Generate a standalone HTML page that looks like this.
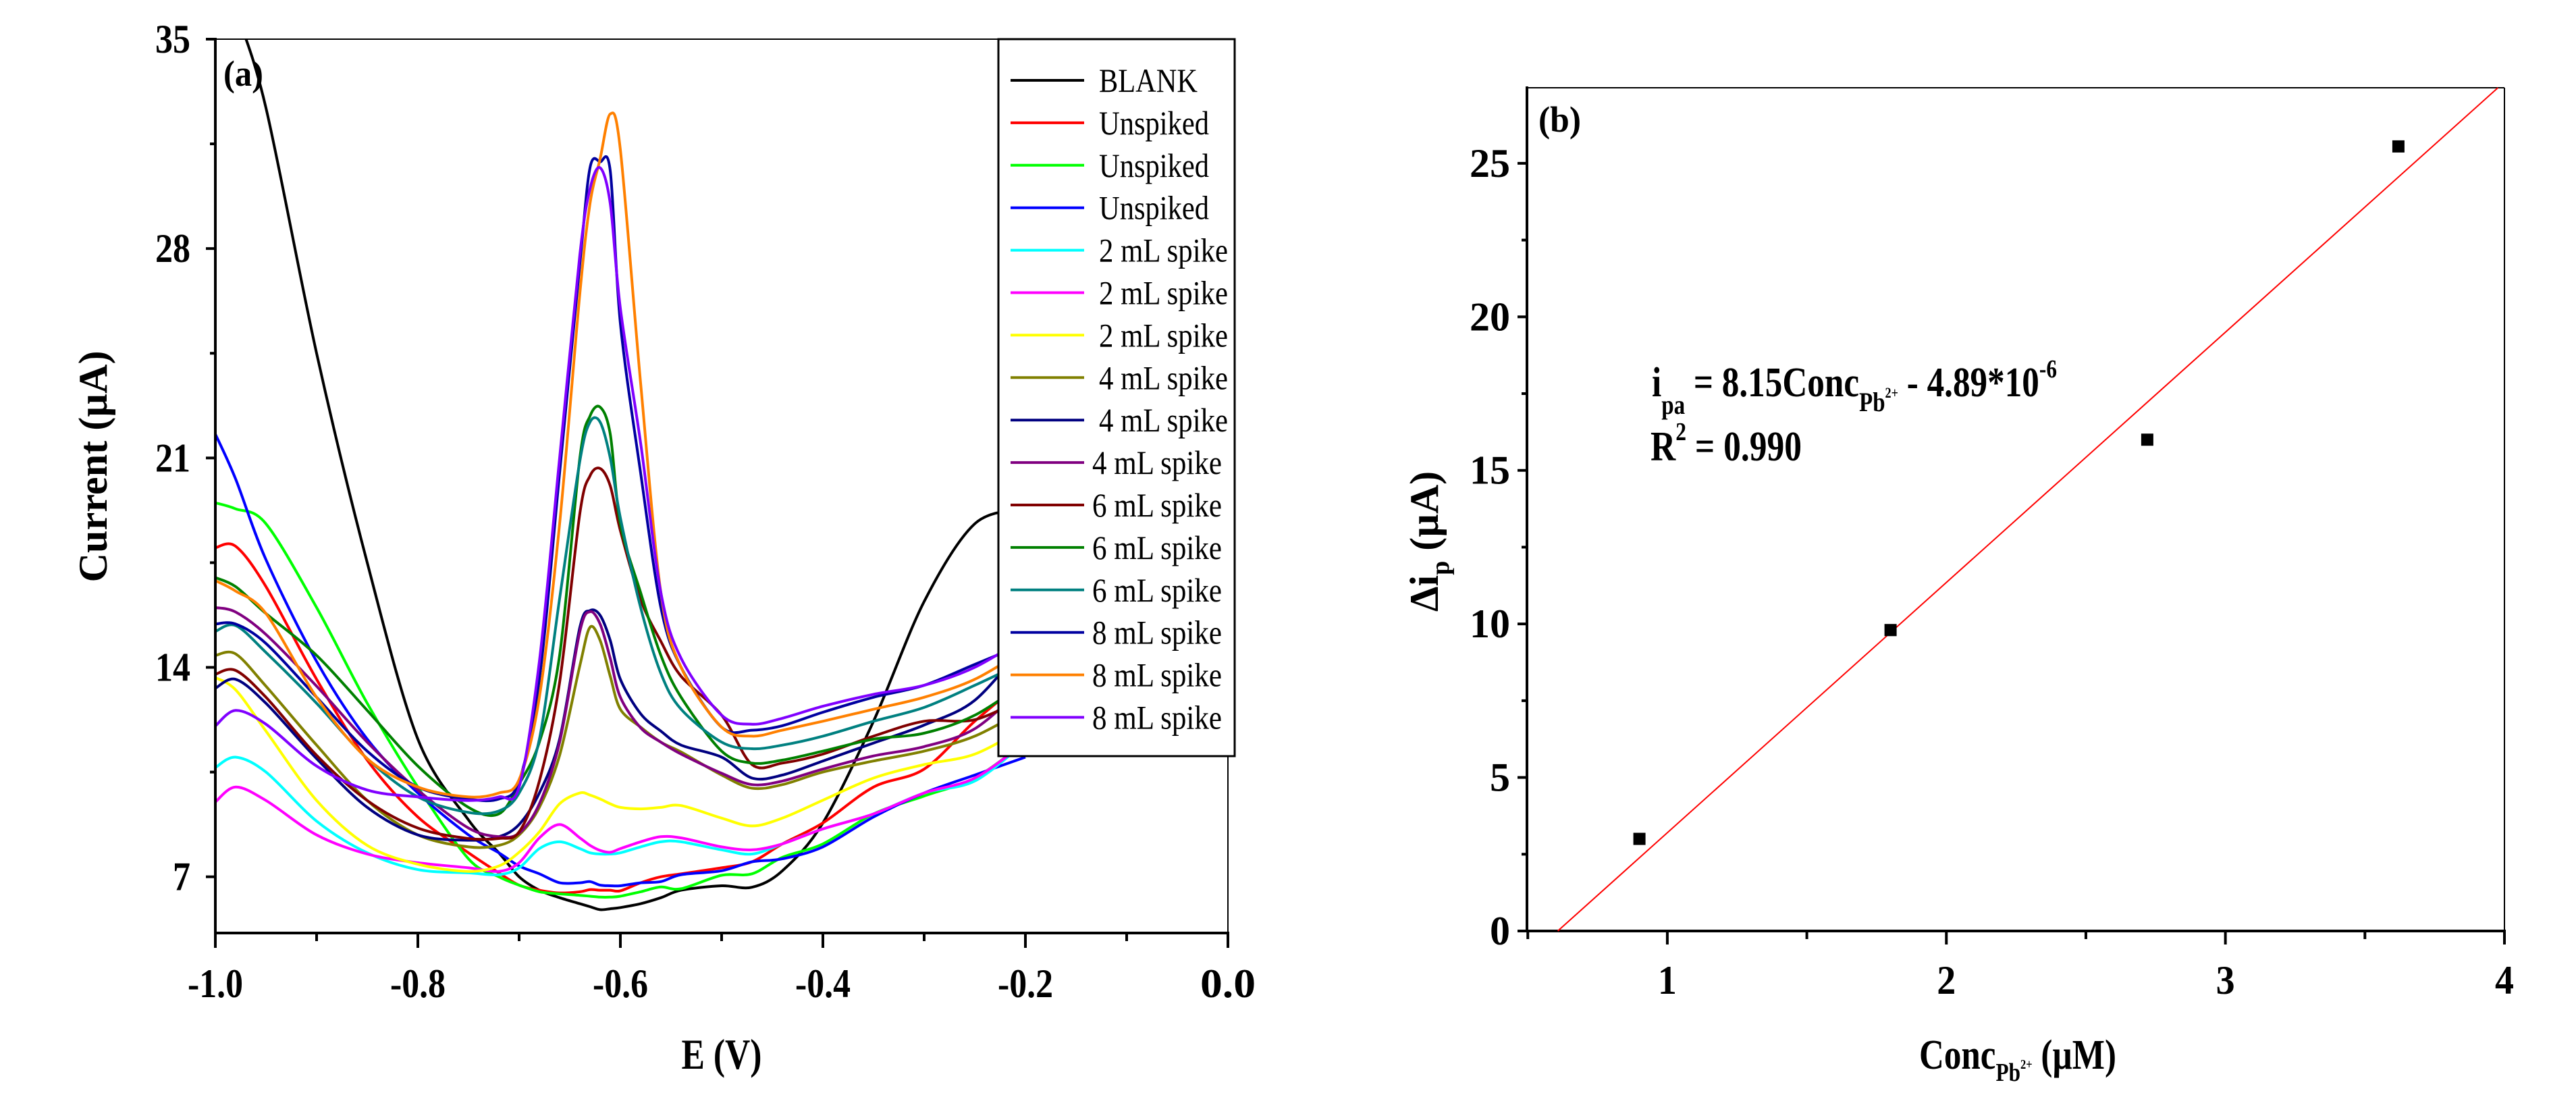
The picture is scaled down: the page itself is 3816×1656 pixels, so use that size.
<!DOCTYPE html>
<html><head><meta charset="utf-8"><style>
html,body{margin:0;padding:0;background:#fff;}
svg{display:block;}
text{font-family:"Liberation Serif",serif;font-weight:bold;fill:#000;}
</style></head><body>
<svg id="fig" width="3816" height="1656" viewBox="0 0 3816 1656" xmlns="http://www.w3.org/2000/svg">
<defs><clipPath id="clipA"><rect x="319" y="58" width="1500" height="1324"/></clipPath></defs>
<rect x="0" y="0" width="3816" height="1656" fill="#fff"/>
<g id="panelA"></g>
<g id="panelB"></g>
<g font-family="Liberation Serif, serif" font-weight="bold">
<text x="2447" y="587" font-size="62" textLength="600" lengthAdjust="spacingAndGlyphs">i<tspan font-size="40" dy="26">pa</tspan><tspan dy="-26"> = 8.15Conc</tspan><tspan font-size="40" dy="22">Pb</tspan><tspan font-size="22" dy="-20">2+</tspan><tspan dy="-2"> - 4.89*10</tspan><tspan font-size="38" dy="-28">-6</tspan></text>
<text x="2445" y="682" font-size="62" textLength="224" lengthAdjust="spacingAndGlyphs">R<tspan font-size="38" dy="-30">2</tspan><tspan dy="30"> = 0.990</tspan></text>
<text transform="translate(2130,802) rotate(-90)" text-anchor="middle" font-size="60">Δi<tspan font-size="38" dy="16">p</tspan><tspan dy="-16"> (µA)</tspan></text>
<text x="2843" y="1583" font-size="62" textLength="292" lengthAdjust="spacingAndGlyphs">Conc<tspan font-size="38" dy="18">Pb</tspan><tspan font-size="20" dy="-18">2+</tspan><tspan dy="0"> (µM)</tspan></text>
</g>
</svg>
<script>
// ---------- Panel (a) data ----------
const potentials = [-1.0,-0.98,-0.95,-0.9,-0.85,-0.8,-0.75,-0.72,-0.7,-0.68,-0.66,-0.64,-0.63,-0.62,-0.61,-0.6,-0.58,-0.56,-0.54,-0.5,-0.47,-0.44,-0.4,-0.35,-0.3,-0.25,-0.2];
const seriesNames = ["BLANK","Unspiked","Unspiked","Unspiked","2 mL spike","2 mL spike","2 mL spike","4 mL spike","4 mL spike","4 mL spike","6 mL spike","6 mL spike","6 mL spike","8 mL spike","8 mL spike","8 mL spike"];
const seriesColors = ["#000000","#FF0000","#00FF00","#0000FF","#00FFFF","#FF00FF","#FFFF00","#808000","#000080","#800080","#800000","#008000","#008080","#0000A0","#FF8000","#8000FF"];
const blank   = [38,36,32.7,24.5,17.5,11.6,8.9,7.8,7.0,6.55,6.3,6.1,6.0,5.9,5.93,5.97,6.1,6.3,6.55,6.7,6.65,7.2,8.8,12.2,16.2,18.8,19.3];
const unsp1   = [18.0,18.05,16.7,13.6,10.9,9.0,7.8,7.13,6.72,6.55,6.46,6.5,6.57,6.55,6.55,6.53,6.8,7.0,7.1,7.3,7.5,8.1,8.8,10.0,10.6,12.2,13.6];
const unsp2   = [19.5,19.3,18.8,16.0,12.8,10.0,7.6,7.0,6.72,6.5,6.43,6.38,6.35,6.32,6.32,6.35,6.5,6.66,6.6,7.05,7.1,7.65,8.1,9.1,9.7,10.3,11.5];
const unsp3   = [21.8,20.3,17.6,14.2,11.6,9.8,8.4,7.8,7.36,7.1,6.8,6.8,6.84,6.72,6.7,6.7,6.8,6.84,7.07,7.2,7.5,7.6,8.0,9.0,9.8,10.4,11.0];
const sp2a    = [10.65,11.0,10.5,8.86,7.8,7.24,7.13,7.07,7.3,7.94,8.17,7.94,7.8,7.76,7.76,7.8,8.0,8.17,8.17,7.9,7.76,8.1,8.6,9.1,9.8,10.2,11.5];
const sp2b    = [9.5,10.0,9.55,8.4,7.76,7.47,7.3,7.18,7.47,8.3,8.75,8.3,8.05,7.88,7.82,7.94,8.17,8.34,8.3,8.0,7.9,8.1,8.6,9.1,9.8,10.3,11.5];
const sp2c    = [13.66,13.25,11.87,9.55,8.05,7.42,7.18,7.36,7.82,8.5,9.44,9.8,9.73,9.6,9.44,9.32,9.27,9.32,9.38,8.96,8.7,8.96,9.56,10.3,10.75,11.1,12.0];
const sp4a    = [14.4,14.45,13.37,11.4,9.55,8.4,8.0,8.05,8.4,9.32,11.06,14.06,15.34,14.9,13.7,12.6,12.0,11.5,11.17,10.4,9.96,10.08,10.5,10.87,11.2,11.7,12.6];
const sp4b    = [13.3,13.6,12.8,10.95,9.32,8.4,8.22,8.34,8.75,9.8,11.6,15.34,15.9,15.74,14.9,13.6,12.45,11.87,11.4,11.0,10.3,10.4,10.87,11.47,12.07,12.9,14.8];
const sp4c    = [16.0,15.85,15.1,13.37,11.5,9.9,8.63,8.34,8.46,9.44,11.5,15.2,15.86,15.45,14.3,13.0,11.98,11.5,11.1,10.46,10.08,10.2,10.6,11.04,11.35,11.95,13.4];
const sp6a    = [13.77,13.9,13.0,11.06,9.55,8.63,8.28,8.28,8.5,10.2,13.5,19.15,20.4,20.65,20.07,18.57,16.26,14.87,13.7,12.4,10.75,10.8,11.1,11.7,12.2,12.25,13.0];
const sp6b    = [17.0,16.7,15.8,14.4,12.56,10.7,9.32,9.1,10.1,11.5,14.4,21.0,22.4,22.7,21.8,18.8,16.5,14.4,13.0,11.2,10.8,10.9,11.2,11.6,11.8,12.4,13.5];
const sp6c    = [15.2,15.4,14.5,12.8,10.95,9.67,9.15,9.2,9.8,11.6,16.3,20.9,22.2,22.2,21.0,19.0,16.0,13.8,12.6,11.5,11.28,11.4,11.7,12.2,12.66,13.4,14.2];
const sp8a    = [15.45,15.45,14.8,13.0,11.2,10.0,9.6,9.6,10.2,13.6,20.5,27.5,30.7,30.9,30.6,25.5,20.5,16.0,14.0,12.0,11.9,12.05,12.5,13.0,13.4,14.1,14.8];
const sp8b    = [16.9,16.55,15.8,13.0,10.95,10.0,9.67,9.8,10.25,13.0,18.8,26.5,29.5,31.0,32.5,31.3,23.5,16.5,14.0,12.0,11.7,11.9,12.2,12.6,13.0,13.6,14.6];
const sp8c    = [12.04,12.56,12.1,10.7,9.9,9.67,9.55,9.67,10.0,14.2,21.0,27.8,30.0,30.7,29.5,26.0,21.5,16.5,14.3,12.4,12.1,12.3,12.7,13.1,13.4,14.0,15.0];
const seriesValues = [blank,unsp1,unsp2,unsp3,sp2a,sp2b,sp2c,sp4a,sp4b,sp4c,sp6a,sp6b,sp6c,sp8a,sp8b,sp8c];
const aYTicks = [7,14,21,28,35];
const aXTicks = [-1.0,-0.8,-0.6,-0.4,-0.2,0.0];
const aXTickLabels = ["-1.0","-0.8","-0.6","-0.4","-0.2","0.0"];

// ---------- Panel (b) data ----------
const concValues = [0.9,1.8,2.72,3.62];
const deltaIp = [3.0,9.8,16.0,25.55];
const fitSlope = [8.15];
const fitIntercept = [-4.95];
const bYTicks = [0,5,10,15,20,25];
const bXTicks = [1,2,3,4];

const NS="http://www.w3.org/2000/svg";
function mk(tag, attrs, parent){const e=document.createElementNS(NS,tag);for(const k in attrs)e.setAttribute(k,attrs[k]);parent.appendChild(e);return e;}
function smooth(pts){
  let d='M'+pts[0][0].toFixed(1)+','+pts[0][1].toFixed(1);
  for(let i=0;i<pts.length-1;i++){
    const p0=pts[Math.max(0,i-1)],p1=pts[i],p2=pts[i+1],p3=pts[Math.min(pts.length-1,i+2)];
    const t=0.16;
    const c1=[p1[0]+(p2[0]-p0[0])*t,p1[1]+(p2[1]-p0[1])*t];
    const c2=[p2[0]-(p3[0]-p1[0])*t,p2[1]-(p3[1]-p1[1])*t];
    d+=' C'+c1[0].toFixed(1)+','+c1[1].toFixed(1)+' '+c2[0].toFixed(1)+','+c2[1].toFixed(1)+' '+p2[0].toFixed(1)+','+p2[1].toFixed(1);
  }
  return d;
}

// ===== Panel A =====
const A=document.getElementById('panelA');
const aL=319,aR=1819,aT=58,aB=1382,aYmin=5.12,aYmax=35;
const ax=v=>aL+(v-(-1))/(1.0)*(aR-aL);
const ay=v=>aB-(v-aYmin)/(aYmax-aYmin)*(aB-aT);

const curves=mk('g',{'clip-path':'url(#clipA)'},A);


seriesValues.forEach((vals,i)=>{
  const pts=vals.map((v,j)=>[ax(potentials[j]),ay(v)]);
  const p=mk('path',{d:smooth(pts),fill:'none',stroke:seriesColors[i],'stroke-width':4,'stroke-linejoin':'round'},curves);
  
  
});
const fa=mk('g',{},A);


mk('line',{x1:aL,y1:aT,x2:aR,y2:aT,stroke:'#000','stroke-width':2},fa);
mk('line',{x1:aR,y1:aT,x2:aR,y2:aB,stroke:'#000','stroke-width':2},fa);
mk('line',{x1:aL,y1:aT-2,x2:aL,y2:aB+2,stroke:'#000','stroke-width':4},fa);
mk('line',{x1:aL-2,y1:aB,x2:aR+2,y2:aB,stroke:'#000','stroke-width':4},fa);
for(let v=7;v<=35;v+=3.5){const major=Math.abs(v/7-Math.round(v/7))<1e-6;mk('line',{x1:aL-(major?14:8),y1:ay(v),x2:aL,y2:ay(v),stroke:'#000','stroke-width':4},fa);}
aYTicks.forEach(v=>{const s=String(v);const t=mk('text',{x:282,y:ay(v)+20,'text-anchor':'end','font-size':60,'textLength':s.length*26,'lengthAdjust':'spacingAndGlyphs'},A);t.textContent=s;
  
  });
for(let v=-1;v<=0.0001;v+=0.1){const major=Math.abs(v*5-Math.round(v*5))<1e-6;mk('line',{x1:ax(v),y1:aB,x2:ax(v),y2:aB+(major?22:12),stroke:'#000','stroke-width':4},fa);}
aXTicks.forEach((v,i)=>{const t=mk('text',{x:ax(v),y:1477,'text-anchor':'middle','font-size':60,'textLength':82,'lengthAdjust':'spacingAndGlyphs'},A);t.textContent=aXTickLabels[i];
  
  });
let t;
t=mk('text',{x:1069,y:1583,'text-anchor':'middle','font-size':64,'textLength':119,'lengthAdjust':'spacingAndGlyphs'},A);t.textContent='E (V)';


t=mk('text',{x:0,y:0,'text-anchor':'middle','font-size':60,'textLength':343,'lengthAdjust':'spacingAndGlyphs',transform:'translate(158,691) rotate(-90)'},A);t.textContent='Current (µA)';


t=mk('text',{x:331,y:127,'font-size':54,'textLength':59,'lengthAdjust':'spacingAndGlyphs'},A);t.textContent='(a)';


const lg=mk('g',{},A);


mk('rect',{x:1479,y:58,width:350,height:1062,fill:'#fff',stroke:'#000','stroke-width':3},lg);
seriesNames.forEach((n,i)=>{
  const y=119+i*62.9;
  const g=mk('g',{},lg);
  
  
  mk('line',{x1:1497,y1:y,x2:1606,y2:y,stroke:seriesColors[i],'stroke-width':4},g);
  const shifted=i>=9;
  const w=n==='BLANK'?146:(n==='Unspiked'?163:(shifted?192:191));
  const tx=mk('text',{x:shifted?1618:1628,y:y+17,'font-size':50,'textLength':w,'lengthAdjust':'spacingAndGlyphs'},g);
  tx.style.fontWeight='normal';
  tx.textContent=n;
});

// ===== Panel B =====
const B=document.getElementById('panelB');
const bL=2262,bR=3710,bT=130,bB=1379,bXmin=0.497,bXmax=4,bYmin=0,bYmax=27.46;
const bx=v=>bL+(v-bXmin)/(bXmax-bXmin)*(bR-bL);
const by=v=>bB-(v-bYmin)/(bYmax-bYmin)*(bB-bT);
const fb=mk('g',{},B);


mk('line',{x1:bL,y1:bT,x2:bR,y2:bT,stroke:'#000','stroke-width':2},fb);
mk('line',{x1:bR,y1:bT,x2:bR,y2:bB,stroke:'#000','stroke-width':2},fb);
const x0=-fitIntercept[0]/fitSlope[0];
const x1=(bYmax-fitIntercept[0])/fitSlope[0];
const fl=mk('line',{x1:bx(x0),y1:by(0),x2:bx(x1),y2:by(bYmax),stroke:'#FF0000','stroke-width':2},B);


concValues.forEach((c,i)=>{const r=mk('rect',{x:bx(c)-9,y:by(deltaIp[i])-9,width:18,height:18,fill:'#000'},B);
  
  });
mk('line',{x1:bL,y1:bT-2,x2:bL,y2:bB+2,stroke:'#000','stroke-width':4},fb);
mk('line',{x1:bL-2,y1:bB,x2:bR+2,y2:bB,stroke:'#000','stroke-width':4},fb);
for(let v=0;v<=27.4;v+=2.5){const major=Math.abs(v/5-Math.round(v/5))<1e-6;mk('line',{x1:bL-(major?14:8),y1:by(v),x2:bL,y2:by(v),stroke:'#000','stroke-width':4},fb);}
bYTicks.forEach(v=>{const s=String(v);const tt=mk('text',{x:2237,y:by(v)+20,'text-anchor':'end','font-size':60,'textLength':s.length*30,'lengthAdjust':'spacingAndGlyphs'},B);tt.textContent=s;
  
  });
for(let v=0.5;v<=4.0001;v+=0.5){const major=Math.abs(v-Math.round(v))<1e-6;mk('line',{x1:bx(v),y1:bB,x2:bx(v),y2:bB+(major?20:12),stroke:'#000','stroke-width':4},fb);}
bXTicks.forEach(v=>{const tt=mk('text',{x:bx(v),y:1472,'text-anchor':'middle','font-size':60,'textLength':28,'lengthAdjust':'spacingAndGlyphs'},B);tt.textContent=String(v);
  
  });
t=mk('text',{x:2279,y:195,'font-size':54,'textLength':63,'lengthAdjust':'spacingAndGlyphs'},B);t.textContent='(b)';


</script>
</body></html>
